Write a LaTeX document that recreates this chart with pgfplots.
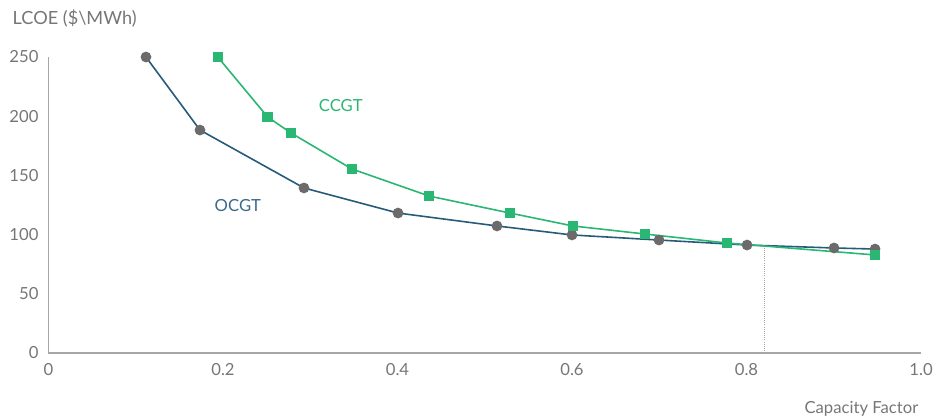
\documentclass[border=0pt]{standalone}
\usepackage{pgfplots}
\pgfplotsset{compat=1.18}
\usepackage{fontspec}
\setmainfont{Lato}
\definecolor{tickgray}{HTML}{767676}
\definecolor{axgray}{HTML}{A6A6A6}
\definecolor{ocgtline}{HTML}{265B7A}
\definecolor{ocgtmark}{HTML}{6B6B6B}
\definecolor{ccgt}{HTML}{2AB673}
\definecolor{ocgtlabel}{HTML}{3A6A8A}
\begin{document}
\begin{tikzpicture}[x=0.75pt,y=0.75pt]
\useasboundingbox (0,0) rectangle (936,419);
\begin{axis}[
  at={(36.375pt,49.5pt)}, anchor=south west,
  scale only axis, width=654.4pt, height=222pt,
  xmin=0, xmax=1, ymin=0, ymax=250,
  axis x line*=bottom, axis y line*=left,
  axis line style={axgray, line width=0.8pt, -},
  xtick={0,0.2,0.4,0.6,0.8,1.0},
  xticklabels={0,0.2,0.4,0.6,0.8,1.0},
  ytick={0,50,100,150,200,250},
  major tick length=0pt,
  tick label style={font=\fontsize{12.5}{14}\selectfont, text=tickgray},
  xticklabel style={yshift=-4.5pt},
  yticklabel style={xshift=-4pt},
  /pgf/number format/assume math mode=true,
  clip=false,
]
\addplot[gray!70, densely dotted, line width=0.6pt, forget plot] coordinates {(0.820,0) (0.820,91.5)};
\addplot[ocgtline, line width=1.2pt, mark=*, mark size=3.4pt,
  mark options={fill=ocgtmark, draw=ocgtmark}] coordinates {
(0.1117,250) (0.1736,188.3) (0.2928,139.4) (0.4006,118.2) (0.5140,107.3)
(0.6000,99.7) (0.6997,95.4) (0.8006,91.2) (0.9003,88.7) (0.9473,87.8)};
\addplot[ccgt, line width=1.2pt, mark=square*, mark size=3.3pt,
  mark options={fill=ccgt, draw=ccgt}] coordinates {
(0.1940,250) (0.2512,199.3) (0.2780,185.8) (0.3478,155.4) (0.4361,132.6)
(0.5289,118.2) (0.6010,107.3) (0.6836,100.5) (0.7776,92.9) (0.9473,82.8)};
\node[text=ccgt, font=\fontsize{12.5}{14}\selectfont] at (axis cs:0.335,208.6) {CCGT};
\node[text=ocgtlabel, font=\fontsize{12.5}{14}\selectfont] at (axis cs:0.217,124.2) {OCGT};
\end{axis}
\node[anchor=west, text=tickgray, font=\fontsize{13.6}{15}\selectfont] at (8,401) {LCOE (\$\textbackslash MWh)};
\node[anchor=east, text=tickgray, font=\fontsize{12.5}{14}\selectfont] at (923,10) {Capacity Factor};
\end{tikzpicture}
\end{document}
